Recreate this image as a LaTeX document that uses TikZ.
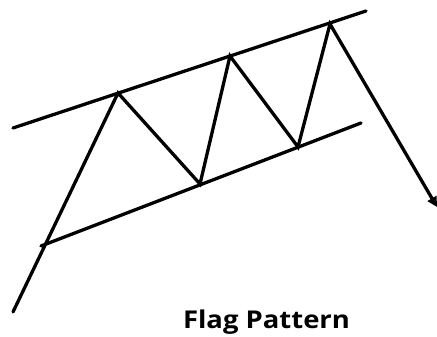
\documentclass[tikz,border=0pt]{standalone}
\usepackage{fontspec}
\setmainfont{Open Sans}
\usetikzlibrary{arrows.meta}
\begin{document}
\begin{tikzpicture}[x=1pt,y=1pt,
  trend/.style={line width=3.3pt,line cap=round,black},
  zig/.style={line width=3.3pt,line join=miter,line cap=round,black},
  lbl/.style={font=\bfseries\fontsize{24.5}{28}\selectfont,inner sep=0pt,anchor=base,xscale=1.12,transform shape}]
\useasboundingbox (0,0) rectangle (437,337);
% top and bottom trend lines
\coordinate (t0) at (13,209);
\coordinate (t1) at (366,326);
\coordinate (b0) at (41,91);
\coordinate (b1) at (361,214);
% zigzag points
\coordinate (s) at (13,25);
\coordinate (p1) at (118,244);
\coordinate (v1) at (200,153);
\coordinate (p2) at (230,281);
\coordinate (v2) at (298,190);
\coordinate (p3) at (330,313);
\coordinate (e) at (437,130);
\draw[trend] (t0) -- (t1);
\draw[trend] (b0) -- (b1);
\draw[zig,-{Triangle[length=10pt,width=10pt]}] (s) -- (p1) -- (v1) -- (p2) -- (v2) -- (p3) -- (e);
\node[lbl] (title) at (266.5,8) {Flag Pattern};
\end{tikzpicture}
\end{document}
